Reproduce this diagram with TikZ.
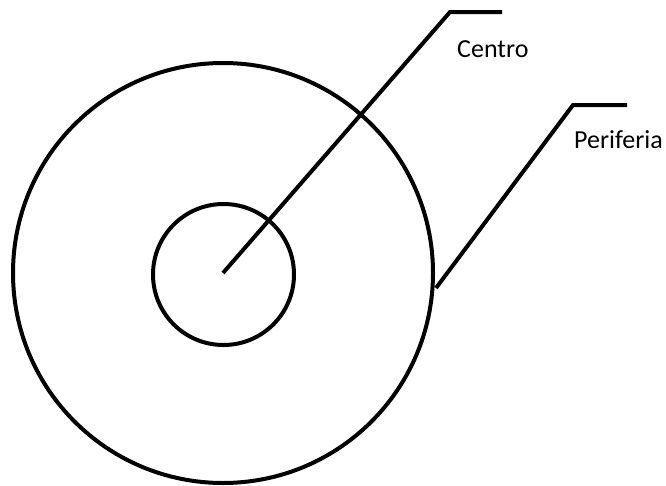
\documentclass[tikz,border=0pt]{standalone}
\usepackage{fontspec}
\setmainfont{Carlito}
\begin{document}
\begin{tikzpicture}[x=1pt,y=-1pt,
  ring/.style={circle,draw,line width=4pt,inner sep=0pt},
  leader/.style={line width=4pt},
  lbl/.style={font=\fontsize{26}{30}\selectfont,inner sep=0pt,anchor=base west}]
\useasboundingbox (0,0) rectangle (666,485);
\node[ring,minimum size=420pt] (outer) at (223,273) {};
\node[ring,minimum size=141pt] (inner) at (223.5,274.5) {};
\coordinate (mid) at (223,273);
\coordinate (c1) at (450,12);
\coordinate (c2) at (502,12);
\coordinate (p0) at (436,288);
\coordinate (p1) at (573,105);
\coordinate (p2) at (627,105);
\draw[leader] (mid) -- (c1) -- (c2);
\draw[leader] (p0) -- (p1) -- (p2);
\node[lbl] (centro) at (457,57) {Centro};
\node[lbl] (periferia) at (574,148) {Periferia};
\end{tikzpicture}
\end{document}
